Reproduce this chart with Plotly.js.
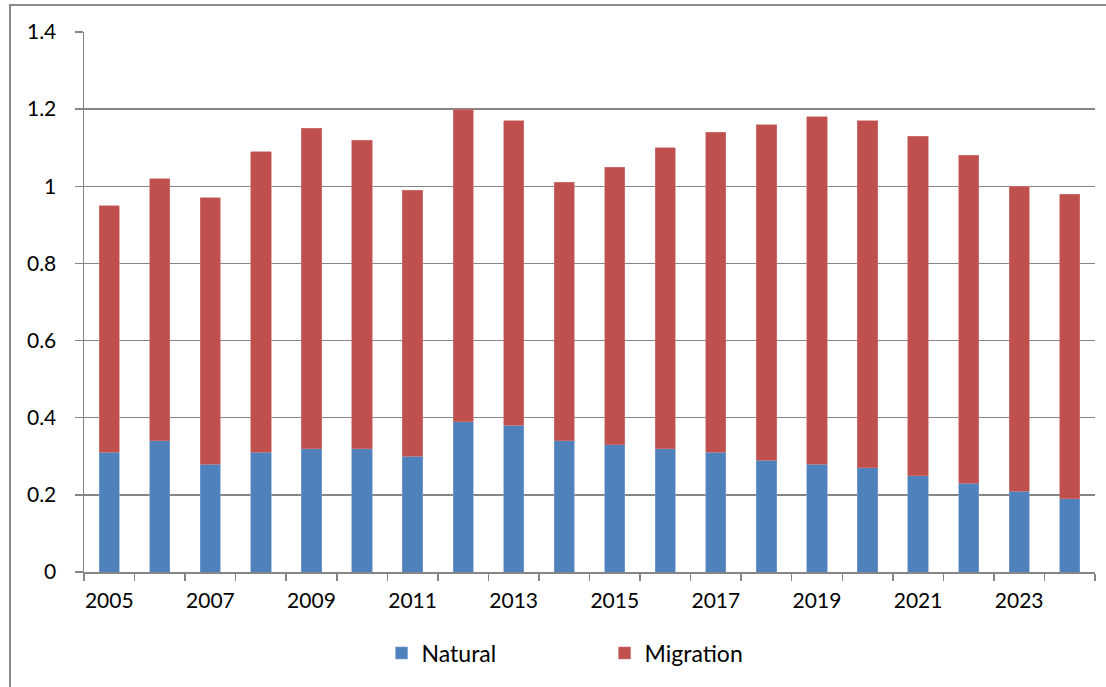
<!DOCTYPE html>
<html>
<head>
<meta charset="utf-8">
<script src="https://cdn.plot.ly/plotly-3.0.1.min.js"></script>
<style>html,body{margin:0;padding:0;background:#fff;}#chart{width:1106px;height:687px;}</style>
</head>
<body>
<div id="chart"></div>
<script>
const years = ['2005','2006','2007','2008','2009','2010','2011','2012','2013','2014','2015','2016','2017','2018','2019','2020','2021','2022','2023','2024'];
const tickLabels = ['2005','','2007','','2009','','2011','','2013','','2015','','2017','','2019','','2021','','2023',''];
const natural = [0.31,0.34,0.28,0.31,0.32,0.32,0.30,0.39,0.38,0.34,0.33,0.32,0.31,0.29,0.28,0.27,0.25,0.23,0.21,0.19];
const migration = [0.64,0.68,0.69,0.78,0.83,0.80,0.69,0.81,0.79,0.67,0.72,0.78,0.83,0.87,0.90,0.90,0.88,0.85,0.79,0.79];
const yTicks = [0,0.2,0.4,0.6,0.8,1,1.2,1.4];
const yTickText = ['0','0.2','0.4','0.6','0.8','1','1.2','1.4'];

const font = {family: 'Lato, "Open Sans", sans-serif', size: 21, color: '#000'};
const legFont = {family: 'Lato, "Open Sans", sans-serif', size: 23, color: '#000'};
const traces = [
  {type:'bar', name:'Natural', x: years, y: natural, marker:{color:'#4F81BD', line:{color:'#7FA3D1', width:0.6}}},
  {type:'bar', name:'Migration', x: years, y: migration, marker:{color:'#C0504D', line:{color:'#D17C7A', width:0.6}}}
];
const layout = {
  width:1106, height:687,
  barmode:'stack', bargap:0.6,
  paper_bgcolor:'#fff', plot_bgcolor:'#fff',
  margin:{l:84, r:11, t:32, b:115},
  font: font,
  showlegend:true,
  legend:{orientation:'h', xref:'container', yref:'container', x:0.345, y:0.0495, xanchor:'left', yanchor:'middle',
          entrywidth:178, entrywidthmode:'pixels', font:legFont, traceorder:'normal'},
  xaxis:{type:'category', tickmode:'array', tickvals: years, ticktext: tickLabels, tickson:'boundaries', tickangle:0,
         ticks:'outside', ticklen:7, tickcolor:'#868686', tickwidth:1.5, showline:true, linecolor:'#868686', linewidth:1.5,
         showgrid:false, tickfont:font, ticklabelstandoff:9, fixedrange:true},
  yaxis:{range:[0,1.4], tickmode:'array', tickvals:yTicks, ticktext:yTickText, ticks:'outside', ticklen:8,
         tickcolor:'#868686', tickwidth:1.5, showline:true, linecolor:'#868686', linewidth:1.5,
         showgrid:true, gridcolor:'#868686', gridwidth:1.5, zeroline:false, tickfont:font, ticklabelstandoff:14},
  shapes:[{type:'rect', xref:'paper', yref:'paper', x0:-0.0732, x1:1.03, y0:-0.25, y1:1.05,
           line:{color:'#8a8a8a', width:2}, fillcolor:'rgba(0,0,0,0)', layer:'below'}]
};
Plotly.newPlot('chart', traces, layout, {displayModeBar:false, staticPlot:true});
</script>
</body>
</html>
